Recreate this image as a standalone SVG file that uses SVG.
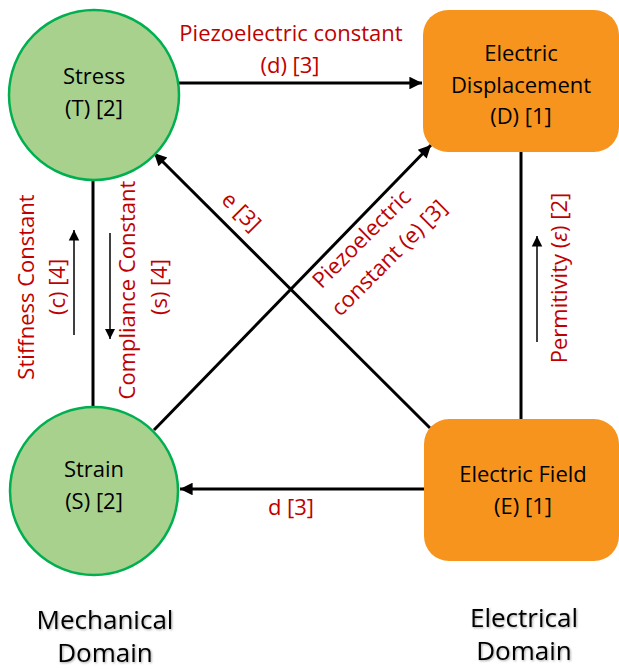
<svg xmlns="http://www.w3.org/2000/svg" width="619" height="669" viewBox="0 0 619 669">
<style>
.t{font-family:"Open Sans","Noto Sans",sans-serif;font-size:22px;fill:#000;text-anchor:middle}
.r{font-family:"Open Sans","Noto Sans",sans-serif;font-size:22px;fill:#C00000;text-anchor:middle}
.d{font-family:"Open Sans","Noto Sans",sans-serif;font-size:26px;fill:#000;text-anchor:middle;filter:url(#sh)}
.circ{fill:#A9D18E;stroke:#00B050;stroke-width:2.5}
.box{fill:#F7941E}
.ln{stroke:#000;stroke-width:3;fill:none}
.sm{stroke:#000;stroke-width:1.5;fill:none}
</style>
<defs>
<marker id="ah" viewBox="0 0 10 10" refX="10" refY="5" markerWidth="5" markerHeight="4.2" markerUnits="strokeWidth" orient="auto">
<path d="M0,0 L10,5 L0,10 Z" fill="#000"/>
</marker>
<marker id="as" viewBox="0 0 10 10" refX="10" refY="5" markerWidth="7" markerHeight="8" markerUnits="strokeWidth" orient="auto">
<path d="M0,0 L10,5 L0,10 Z" fill="#000"/>
</marker>
<filter id="sh" x="-10%" y="-20%" width="120%" height="140%">
<feDropShadow dx="1" dy="1" stdDeviation="0.8" flood-color="#000" flood-opacity="0.35"/>
</filter>
</defs>
<g id="connectors">
<line class="ln" x1="179" y1="83" x2="422" y2="83" marker-end="url(#ah)"/>
<line class="ln" x1="424" y1="489" x2="180" y2="489" marker-end="url(#ah)"/>
<line class="ln" x1="93" y1="179" x2="93" y2="407"/>
<line class="ln" x1="521" y1="152" x2="521" y2="419"/>
<line class="ln" x1="430" y1="428" x2="154" y2="153" marker-end="url(#ah)"/>
<line class="ln" x1="154" y1="430" x2="431" y2="145" marker-end="url(#ah)"/>
<line class="sm" x1="74" y1="335" x2="74" y2="230" marker-end="url(#as)"/>
<line class="sm" x1="110" y1="233" x2="110" y2="339" marker-end="url(#as)"/>
<line class="sm" x1="537" y1="342" x2="537" y2="236" marker-end="url(#as)"/>
<text class="r" x="291" y="41">Piezoelectric constant</text>
<text class="r" x="290" y="73">(d) [3]</text>
<text class="r" x="291" y="515">d [3]</text>
<text class="r" transform="translate(241,212) rotate(45)" x="0" y="7">e [3]</text>
<g transform="translate(376,249) rotate(-45)">
<text class="r" x="-3" y="-10">Piezoelectric</text>
<text class="r" x="3" y="23">constant (e) [3]</text>
</g>
<g transform="translate(0,287) rotate(-90)">
<text class="r" x="0" y="34">Stiffness Constant</text>
<text class="r" x="0" y="65">(c) [4]</text>
<text class="r" x="-3" y="135">Compliance Constant</text>
<text class="r" x="0" y="167">(s) [4]</text>
</g>
<text class="r" transform="translate(567,278) rotate(-90)" x="0" y="0">Permitivity (<tspan font-style="italic">ε</tspan>) [2]</text>
</g>
<g id="stress">
<circle class="circ" cx="94" cy="95" r="85"/>
<text class="t" x="94" y="84">Stress</text>
<text class="t" x="94" y="116">(T) [2]</text>
</g>
<g id="strain">
<circle class="circ" cx="94" cy="491" r="84"/>
<text class="t" x="94" y="477">Strain</text>
<text class="t" x="94" y="509">(S) [2]</text>
</g>
<g id="electric-displacement">
<rect class="box" x="423" y="10" width="196" height="142" rx="25"/>
<text class="t" x="521" y="61">Electric</text>
<text class="t" x="521" y="93">Displacement</text>
<text class="t" x="521" y="124">(D) [1]</text>
</g>
<g id="electric-field">
<rect class="box" x="424" y="419" width="195" height="142" rx="25"/>
<text class="t" x="523" y="482">Electric Field</text>
<text class="t" x="523" y="514">(E) [1]</text>
</g>
<g id="mechanical-domain">
<text class="d" x="105" y="629">Mechanical</text>
<text class="d" x="105" y="662">Domain</text>
</g>
<g id="electrical-domain">
<text class="d" x="524" y="627">Electrical</text>
<text class="d" x="524" y="660">Domain</text>
</g>
</svg>
